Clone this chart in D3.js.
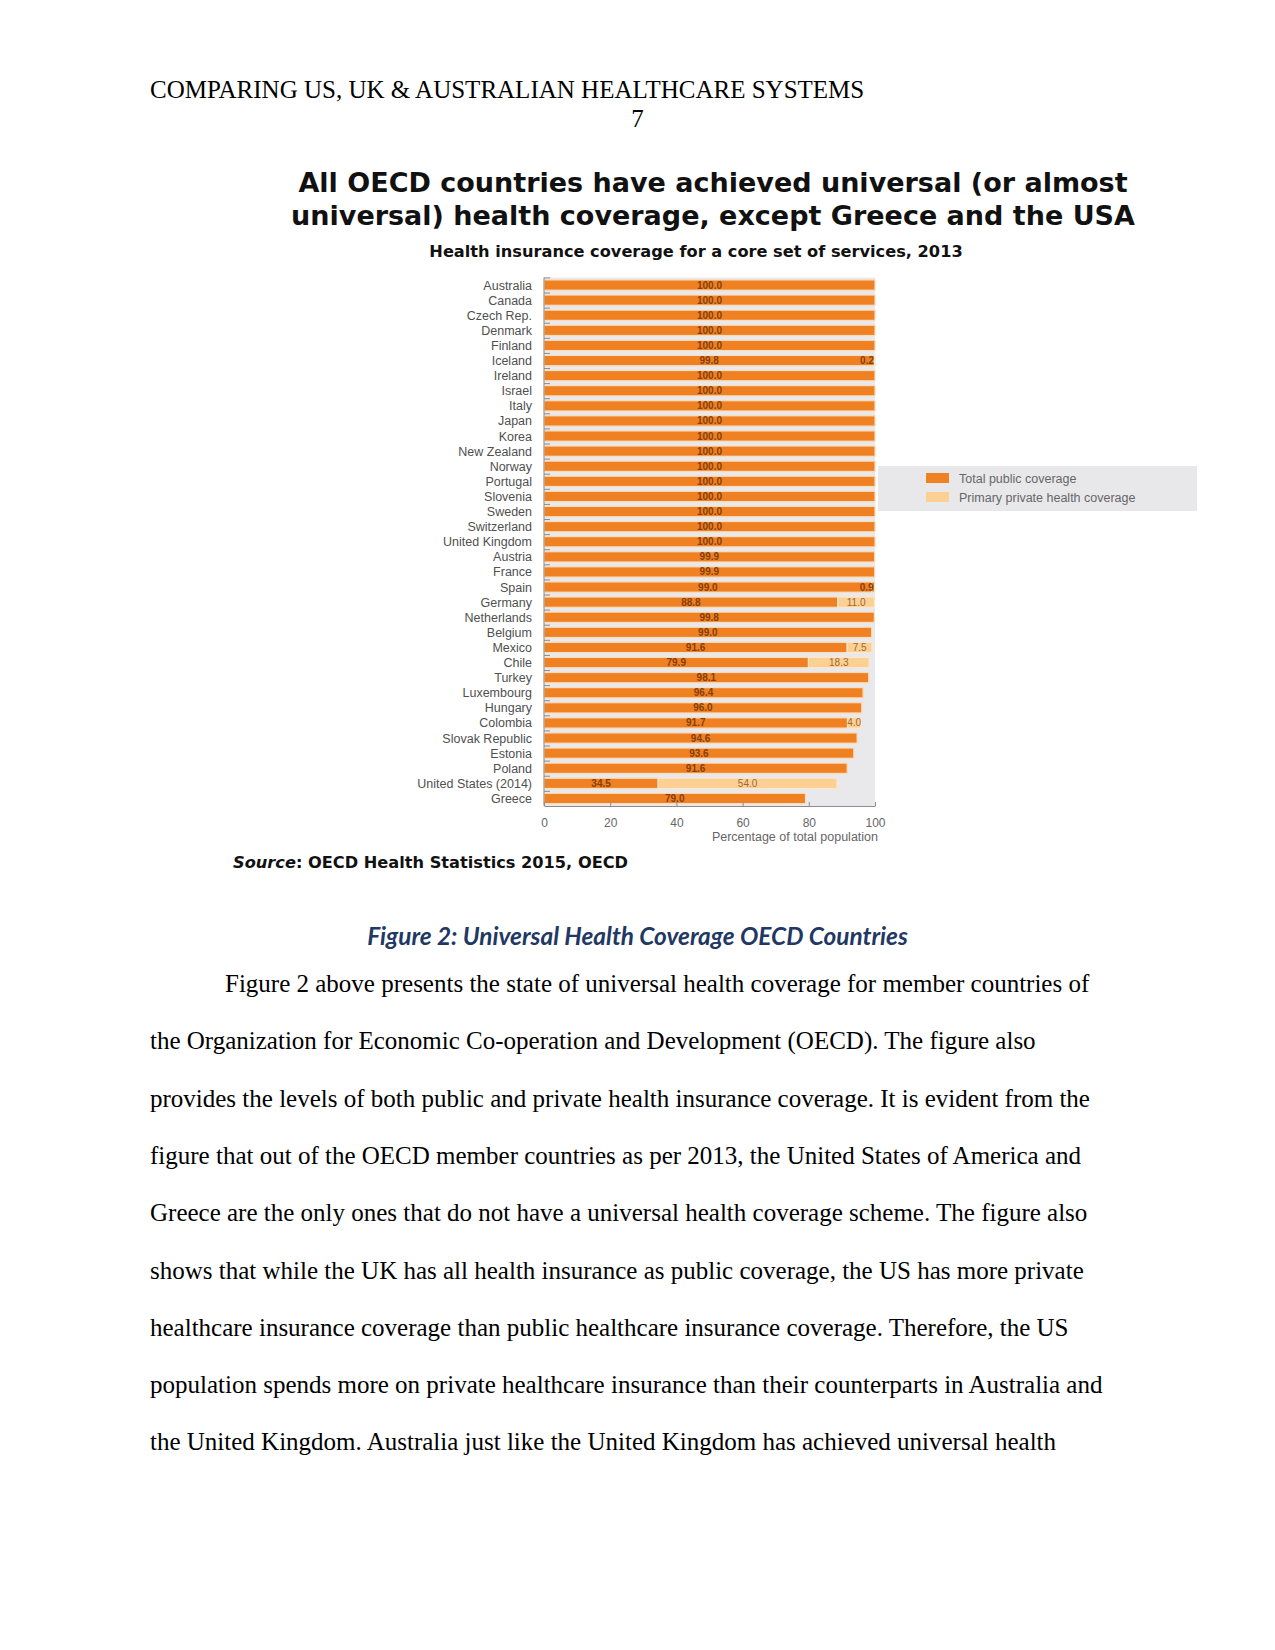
<!DOCTYPE html>
<html>
<head>
<meta charset="utf-8">
<script src="https://cdn.jsdelivr.net/npm/d3@7"></script>
<style>
  body { margin: 0; background: #fff; }
  svg { display: block; }
</style>
</head>
<body>
<div id="container"></div>
<script>
var countries = ['Australia', 'Canada', 'Czech Rep.', 'Denmark', 'Finland', 'Iceland', 'Ireland', 'Israel',
  'Italy', 'Japan', 'Korea', 'New Zealand', 'Norway', 'Portugal', 'Slovenia', 'Sweden', 'Switzerland',
  'United Kingdom', 'Austria', 'France', 'Spain', 'Germany', 'Netherlands', 'Belgium', 'Mexico', 'Chile',
  'Turkey', 'Luxembourg', 'Hungary', 'Colombia', 'Slovak Republic', 'Estonia', 'Poland',
  'United States (2014)', 'Greece']

var publicCov = [100, 100, 100, 100, 100, 99.8, 100, 100, 100, 100, 100, 100, 100, 100, 100, 100, 100,
  100, 99.9, 99.9, 99.0, 88.8, 99.8, 99.0, 91.6, 79.9, 98.1, 96.4, 96.0, 91.7, 94.6, 93.6, 91.6, 34.5, 79.0]

var privateCov = [0, 0, 0, 0, 0, 0.2, 0, 0, 0, 0, 0, 0, 0, 0, 0, 0, 0,
  0, 0, 0, 0.9, 11.0, 0, 0, 7.5, 18.3, 0, 0, 0, 4.0, 0, 0, 0, 54.0, 0]

var xTicks = [0, 20, 40, 60, 80, 100]
var legendLabels = ['Total public coverage', 'Primary private health coverage']

var titleLines = ['All OECD countries have achieved universal (or almost',
  'universal) health coverage, except Greece and the USA']
var subtitle = 'Health insurance coverage for a core set of services, 2013'
var xTitle = 'Percentage of total population'

var bodyLines = [
  'Figure 2 above presents the state of universal health coverage for member countries of',
  'the Organization for Economic Co-operation and Development (OECD). The figure also',
  'provides the levels of both public and private health insurance coverage. It is evident from the',
  'figure that out of the OECD member countries as per 2013, the United States of America and',
  'Greece are the only ones that do not have a universal health coverage scheme. The figure also',
  'shows that while the UK has all health insurance as public coverage, the US has more private',
  'healthcare insurance coverage than public healthcare insurance coverage. Therefore, the US',
  'population spends more on private healthcare insurance than their counterparts in Australia and',
  'the United Kingdom. Australia just like the United Kingdom has achieved universal health'
]

var ORANGE = '#ef8122'
var LIGHT = '#fccf92'
var chartFont = '"Liberation Sans", Arial, sans-serif'
var serif = '"Liberation Serif", "Times New Roman", serif'
var verdana = '"DejaVu Sans", Verdana, sans-serif'

var svg = d3.select('#container')
  .append('svg')
  .attr('width', 1275)
  .attr('height', 1650)

svg.append('rect').attr('width', 1275).attr('height', 1650).attr('fill', '#fff')

// page header
svg.append('text')
  .attr('x', 150).attr('y', 98)
  .style('font-family', serif).style('font-size', '25px')
  .text('COMPARING US, UK & AUSTRALIAN HEALTHCARE SYSTEMS')

svg.append('text')
  .attr('x', 637.5).attr('y', 127)
  .attr('text-anchor', 'middle')
  .style('font-family', serif).style('font-size', '25px')
  .text('7')

// chart titles
svg.selectAll('.title-line')
  .data(titleLines)
  .enter().append('text')
  .attr('class', 'title-line')
  .attr('x', 713)
  .attr('y', (d, i) => 192 + i * 33)
  .attr('text-anchor', 'middle')
  .style('font-family', verdana).style('font-weight', 'bold').style('font-size', '27px')
  .attr('fill', '#111')
  .text(d => d)

svg.append('text')
  .attr('x', 696).attr('y', 257)
  .attr('text-anchor', 'middle')
  .style('font-family', verdana).style('font-weight', 'bold').style('font-size', '16.2px')
  .attr('fill', '#111')
  .text(subtitle)

// scales
var x = d3.scaleLinear().domain([0, 100]).range([544, 875])
var y = d3.scaleBand().domain(countries).range([277.5, 806]).paddingInner(0.32).paddingOuter(0.16)

var chart = svg.append('g').attr('class', 'chart-layer')

chart.append('rect')
  .attr('x', x(0)).attr('y', 277.5)
  .attr('width', x(100) - x(0)).attr('height', 806 - 277.5)
  .attr('fill', '#e9e9eb')

var rows = countries.map((c, i) => ({ name: c, pub: publicCov[i], priv: privateCov[i] }))

// public bars
chart.selectAll('.bar-pub')
  .data(rows)
  .enter().append('rect')
  .attr('class', 'bar-pub')
  .attr('x', x(0))
  .attr('y', d => y(d.name))
  .attr('width', d => x(d.pub) - x(0))
  .attr('height', y.bandwidth())
  .attr('fill', ORANGE)
  .attr('stroke', '#fbdcbc')
  .attr('stroke-width', 1.2)

// private bars
chart.selectAll('.bar-priv')
  .data(rows.filter(d => d.priv > 0))
  .enter().append('rect')
  .attr('class', 'bar-priv')
  .attr('x', d => x(d.pub))
  .attr('y', d => y(d.name))
  .attr('width', d => x(d.pub + d.priv) - x(d.pub))
  .attr('height', y.bandwidth())
  .attr('fill', d => d.priv < 1 ? ORANGE : LIGHT)
  .attr('stroke', '#fde6cc')
  .attr('stroke-width', 1.2)

// value labels
chart.selectAll('.lab-pub')
  .data(rows)
  .enter().append('text')
  .attr('class', 'lab-pub')
  .attr('x', d => (x(0) + x(d.pub)) / 2)
  .attr('y', d => y(d.name) + y.bandwidth() / 2 + 3.5)
  .attr('text-anchor', 'middle')
  .style('font-family', chartFont).style('font-size', '10px').style('font-weight', 'bold')
  .attr('fill', '#873f0c')
  .text(d => d.pub.toFixed(1))

chart.selectAll('.lab-priv')
  .data(rows.filter(d => d.priv > 0))
  .enter().append('text')
  .attr('class', 'lab-priv')
  .attr('x', d => d.priv < 3 ? x(d.pub + d.priv) - 1 : (x(d.pub) + x(d.pub + d.priv)) / 2)
  .attr('y', d => y(d.name) + y.bandwidth() / 2 + 3.5)
  .attr('text-anchor', d => d.priv < 3 ? 'end' : 'middle')
  .style('font-family', chartFont).style('font-size', '10px')
  .style('font-weight', d => d.priv < 3 ? 'bold' : 'normal')
  .attr('fill', d => d.priv < 3 ? '#873f0c' : '#9c6a35')
  .text(d => d.priv.toFixed(1))

// country labels
chart.selectAll('.country')
  .data(countries)
  .enter().append('text')
  .attr('class', 'country')
  .attr('x', 532)
  .attr('y', d => y(d) + y.bandwidth() / 2 + 4.5)
  .attr('text-anchor', 'end')
  .style('font-family', chartFont).style('font-size', '12.5px')
  .attr('fill', '#505050')
  .text(d => d)

// left axis line with small ticks at band tops
chart.append('line')
  .attr('x1', x(0)).attr('x2', x(0))
  .attr('y1', 277.5).attr('y2', 806)
  .attr('stroke', '#8c8c8c')

chart.selectAll('.ytick')
  .data(countries)
  .enter().append('line')
  .attr('class', 'ytick')
  .attr('x1', x(0)).attr('x2', x(0) + 6)
  .attr('y1', d => y(d) - 2).attr('y2', d => y(d) - 2)
  .attr('stroke', '#8c8c8c')

// bottom axis
var xAxis = chart.append('g')
  .attr('transform', 'translate(0,806)')
  .call(d3.axisBottom(x).tickValues(xTicks).tickSizeInner(-4).tickSizeOuter(0).tickPadding(12))

xAxis.select('.domain').attr('stroke', '#8c8c8c')
xAxis.selectAll('.tick line').attr('stroke', '#8c8c8c')
xAxis.selectAll('.tick text')
  .style('font-family', chartFont).style('font-size', '12px')
  .attr('fill', '#666')

chart.append('text')
  .attr('x', 878).attr('y', 841)
  .attr('text-anchor', 'end')
  .style('font-family', chartFont).style('font-size', '12.5px')
  .attr('fill', '#666')
  .text(xTitle)

// legend
var legend = svg.append('g').attr('class', 'legend')
legend.append('rect')
  .attr('x', 878).attr('y', 466)
  .attr('width', 319).attr('height', 45)
  .attr('fill', '#e8e8ea')

var li = legend.selectAll('.item')
  .data(legendLabels)
  .enter().append('g')
  .attr('class', 'item')
  .attr('transform', (d, i) => 'translate(926,' + (473 + i * 19) + ')')

li.append('rect')
  .attr('width', 23).attr('height', 10)
  .attr('fill', (d, i) => i === 0 ? ORANGE : LIGHT)

li.append('text')
  .attr('x', 33).attr('y', 10)
  .style('font-family', chartFont).style('font-size', '12.5px')
  .attr('fill', '#666')
  .text(d => d)

// source line
var src = svg.append('text')
  .attr('x', 233).attr('y', 868)
  .style('font-family', verdana).style('font-weight', 'bold').style('font-size', '16.2px')
  .attr('fill', '#111')
src.append('tspan').style('font-style', 'italic').text('Source')
src.append('tspan').text(': OECD Health Statistics 2015, OECD')

// figure caption
svg.append('text')
  .attr('x', 637.5).attr('y', 945)
  .attr('text-anchor', 'middle')
  .style('font-family', 'Lato, "Open Sans", sans-serif')
  .style('font-weight', 'bold').style('font-style', 'italic').style('font-size', '24.4px')
  .attr('fill', '#1f3864')
  .text('Figure 2: Universal Health Coverage OECD Countries')

// body text
svg.selectAll('.body-line')
  .data(bodyLines)
  .enter().append('text')
  .attr('class', 'body-line')
  .attr('x', (d, i) => i === 0 ? 225 : 150)
  .attr('y', (d, i) => 992 + i * 57.3)
  .style('font-family', serif).style('font-size', '25px')
  .attr('fill', '#000')
  .text(d => d)
</script>
</body>
</html>
